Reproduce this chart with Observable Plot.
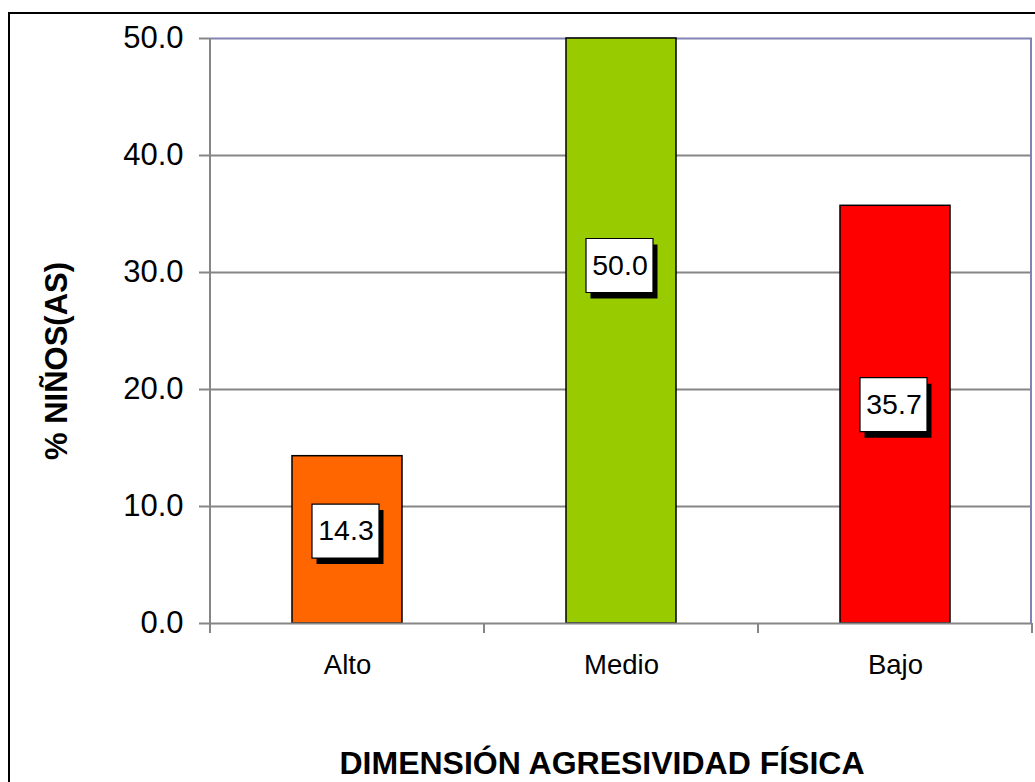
<!DOCTYPE html>
<html>
<head>
<meta charset="utf-8">
<script src="https://cdn.jsdelivr.net/npm/d3@7"></script>
<script src="https://cdn.jsdelivr.net/npm/@observablehq/plot@0.6"></script>
<style>
html, body { margin: 0; padding: 0; background: #fff; overflow: hidden; }
#wrap { position: relative; width: 1035px; height: 782px; overflow: hidden; background: #fff; }
#border { position: absolute; left: 8px; top: 12px; width: 1200px; height: 1000px; border: 2.5px solid #000; box-sizing: border-box; z-index: 2; pointer-events: none; }
#wrap svg { position: absolute; left: 0; top: 0; }
</style>
</head>
<body>
<div id="wrap"><div id="border"></div></div>
<script>
// ---- data ----
const categories = ["Alto", "Medio", "Bajo"];
const values = [14.3, 50.0, 35.7];
const colors = ["#FF6600", "#99CC00", "#FF0000"];
const labelAt = [7.9, 30.6, 18.7];          // where the value boxes sit (data units)
const yTicks = [0, 10, 20, 30, 40, 50];
const gridTicks = [10, 20, 30, 40];
const topTick = [50];
const baseTick = [0];
const yTitle = "% NIÑOS(AS)";
const xTitle = "DIMENSIÓN AGRESIVIDAD FÍSICA";

const data = categories.map((c, i) => ({
  cat: c, value: values[i], color: colors[i], at: labelAt[i], label: values[i].toFixed(1)
}));

const GRAY = "#868686";
const PURPLE = "#8282b4";

// rectangular symbol for the value boxes
const boxSymbol = { draw(ctx) { ctx.rect(-33.5, -27, 67, 54); } };

// band edges ticks, left axis line and right border
const frameBits = (index, scales, vals, dims) => {
  const x = scales.x, y = scales.y;
  const bw = x.bandwidth ? x.bandwidth() : (dims.width - dims.marginLeft - dims.marginRight) / categories.length;
  const y0 = y(0), yTop = y(50);
  const g = d3.create("svg:g");
  const edges = categories.map(c => x(c)).concat([x(categories[categories.length - 1]) + bw]);
  g.selectAll("line.t").data(edges).join("line")
    .attr("x1", d => d).attr("x2", d => d).attr("y1", y0).attr("y2", y0 + 10)
    .attr("stroke", GRAY).attr("stroke-width", 2);
  g.append("line").attr("x1", edges[0]).attr("x2", edges[0]).attr("y1", yTop).attr("y2", y0)
    .attr("stroke", GRAY).attr("stroke-width", 2);
  const xr = edges[edges.length - 1] - 1;
  g.append("line").attr("x1", xr).attr("x2", xr).attr("y1", yTop).attr("y2", y0)
    .attr("stroke", PURPLE).attr("stroke-width", 2);
  return g.node();
};

const chart = Plot.plot({
  width: 1035,
  height: 782,
  marginLeft: 210,
  marginRight: 3,
  marginTop: 38,
  marginBottom: 159,
  style: { fontFamily: "'Liberation Sans', Arial, sans-serif", background: "transparent", overflow: "visible" },
  x: { domain: categories, padding: 0 },
  y: { domain: [0, 50] },
  color: { type: "identity" },
  marks: [
    Plot.ruleY(gridTicks, { stroke: GRAY, strokeWidth: 2 }),
    Plot.ruleY(topTick, { stroke: PURPLE, strokeWidth: 2 }),
    Plot.barY(data, { x: "cat", y: "value", fill: "color", stroke: "black", strokeWidth: 1.5, insetLeft: 82, insetRight: 82 }),
    Plot.ruleY(baseTick, { stroke: GRAY, strokeWidth: 2 }),
    frameBits,
    Plot.axisY({ ticks: yTicks, tickFormat: d => d.toFixed(1), tickSize: 11, tickPadding: 16, fontSize: 31, stroke: GRAY, strokeWidth: 2, fill: "black", label: null }),
    Plot.axisX({ tickSize: 0, tickPadding: 31, fontSize: 27.5, fill: "black", label: null }),
    Plot.dot(data, { x: "cat", y: "at", symbol: boxSymbol, fill: "black", dx: 2.5, dy: 6 }),
    Plot.dot(data, { x: "cat", y: "at", symbol: boxSymbol, fill: "white", stroke: "black", strokeWidth: 1.2, dx: -2 }),
    Plot.text(data, { x: "cat", y: "at", text: "label", fontSize: 28.5, fill: "black", dx: -1.5 }),
    Plot.text([yTitle], { frameAnchor: "left", textAnchor: "middle", lineAnchor: "middle", text: d => d, rotate: -90, dx: -153, dy: 30, fontSize: 31, fontWeight: "bold", fill: "black" }),
    Plot.text([xTitle], { frameAnchor: "bottom", textAnchor: "middle", lineAnchor: "middle", text: d => d, dx: -19.5, dy: 140, fontSize: 32, fontWeight: "bold", fill: "black" })
  ]
});

document.getElementById("wrap").appendChild(chart);
</script>
</body>
</html>
